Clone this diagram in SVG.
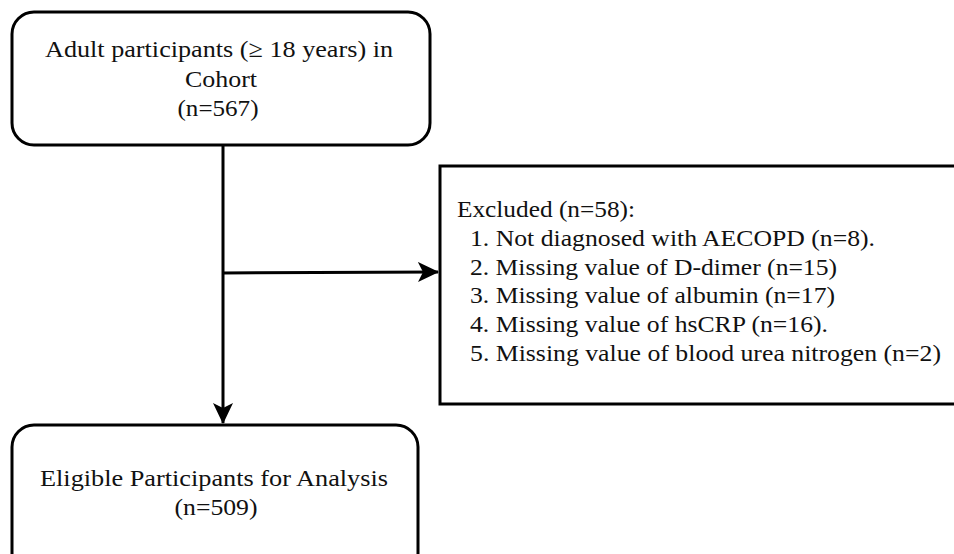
<svg xmlns="http://www.w3.org/2000/svg" width="954" height="554" viewBox="0 0 954 554" font-family="Liberation Serif, Times New Roman, serif">
<style>
.box{fill:#fff;stroke:#000;stroke-width:3}
.t{font-size:24px;fill:#111}
.c{text-anchor:middle}
.ln{stroke:#000;stroke-width:3;fill:none}
</style>
<defs>
<marker id="ah2" markerWidth="22" markerHeight="22" refX="20" refY="11" orient="auto" markerUnits="userSpaceOnUse" viewBox="0 0 22 22">
<path d="M0,1 L21,11 L0,21 L5,11 Z" fill="#000"/>
</marker>
</defs>
<rect width="954" height="554" fill="#fff"/>
<g id="connectors">
<line class="ln" x1="223" y1="145" x2="223" y2="423" marker-end="url(#ah2)"/>
<line class="ln" x1="223" y1="273" x2="438" y2="272" marker-end="url(#ah2)"/>
</g>
<g id="n1">
<rect class="box" x="12" y="12" width="418" height="133" rx="22"/>
<text class="t c" x="219" y="57" textLength="348" lengthAdjust="spacingAndGlyphs">Adult participants (≥ 18 years) in</text>
<text class="t c" x="221" y="87" textLength="72" lengthAdjust="spacingAndGlyphs">Cohort</text>
<text class="t c" x="218" y="116" textLength="81" lengthAdjust="spacingAndGlyphs">(n=567)</text>
</g>
<g id="n2">
<rect class="box" x="440" y="166" width="530" height="238"/>
<text class="t" x="457" y="217" textLength="178" lengthAdjust="spacingAndGlyphs">Excluded (n=58):</text>
<text class="t" x="470" y="246" textLength="405" lengthAdjust="spacingAndGlyphs">1. Not diagnosed with AECOPD (n=8).</text>
<text class="t" x="470" y="275" textLength="367" lengthAdjust="spacingAndGlyphs">2. Missing value of D-dimer (n=15)</text>
<text class="t" x="470" y="303" textLength="365" lengthAdjust="spacingAndGlyphs">3. Missing value of albumin (n=17)</text>
<text class="t" x="470" y="332" textLength="358" lengthAdjust="spacingAndGlyphs">4. Missing value of hsCRP (n=16).</text>
<text class="t" x="470" y="361" textLength="471" lengthAdjust="spacingAndGlyphs">5. Missing value of blood urea nitrogen (n=2)</text>
</g>
<g id="n3">
<rect class="box" x="12" y="425" width="406" height="150" rx="22"/>
<text class="t c" x="214" y="486" textLength="348" lengthAdjust="spacingAndGlyphs">Eligible Participants for Analysis</text>
<text class="t c" x="216" y="515" textLength="83" lengthAdjust="spacingAndGlyphs">(n=509)</text>
</g>
</svg>
